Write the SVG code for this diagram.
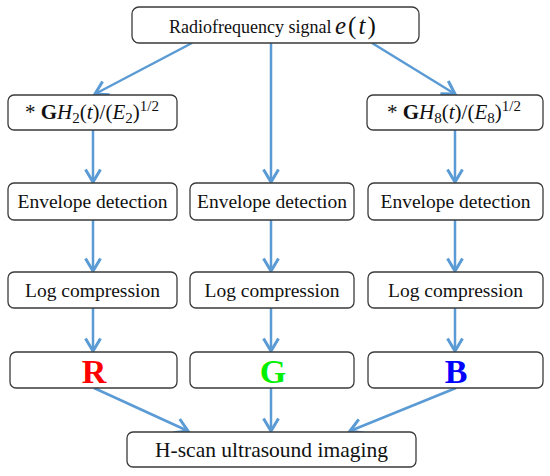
<svg xmlns="http://www.w3.org/2000/svg" width="550" height="476" viewBox="0 0 550 476">
<defs>
<marker id="ah" markerUnits="userSpaceOnUse" markerWidth="20" markerHeight="20" viewBox="-12 -8 14 16" refX="0" refY="0" orient="auto">
<path d="M-10,-6 L0,0 L-10,6" fill="none" stroke="#5b9bd5" stroke-width="2.4" stroke-linejoin="miter"/>
</marker>
<style>
.box{fill:#fff;stroke:#3a3a3a;stroke-width:1.3}
.c{stroke:#5b9bd5;stroke-width:2.5;fill:none;marker-end:url(#ah)}
text{font-family:'Liberation Serif','Times New Roman',serif;fill:#111}
.lbl{font-size:19.5px}
.rgb{font-weight:bold;font-size:34px}
</style>
</defs>
<g id="connectors">
<line class="c" x1="192" y1="43" x2="95" y2="94"/>
<line class="c" x1="271" y1="43" x2="271" y2="182"/>
<line class="c" x1="372" y1="43" x2="455" y2="94"/>
<line class="c" x1="93" y1="130" x2="93" y2="182"/>
<line class="c" x1="455" y1="130" x2="455" y2="182"/>
<line class="c" x1="93" y1="220" x2="93" y2="271"/>
<line class="c" x1="271" y1="220" x2="271" y2="271"/>
<line class="c" x1="455" y1="220" x2="455" y2="271"/>
<line class="c" x1="93" y1="308" x2="93" y2="351"/>
<line class="c" x1="271" y1="308" x2="271" y2="351"/>
<line class="c" x1="455" y1="308" x2="455" y2="351"/>
<line class="c" x1="94" y1="388" x2="188" y2="431"/>
<line class="c" x1="271" y1="388" x2="271" y2="431"/>
<line class="c" x1="456" y1="388" x2="350" y2="431"/>
</g>
<g id="rf">
<rect class="box" x="132" y="7" width="287" height="36" rx="7"/>
<text x="169" y="33" font-size="18">Radiofrequency signal</text>
<text x="335" y="34" font-size="25"><tspan font-style="italic">e</tspan><tspan dx="2">(</tspan><tspan dx="2" font-style="italic">t</tspan><tspan dx="2">)</tspan></text>
</g>
<g id="h2">
<rect class="box" x="8" y="95" width="169" height="35" rx="6"/>
<text x="25" y="119" font-size="21">* <tspan font-weight="bold">G</tspan><tspan font-style="italic">H</tspan><tspan dy="4" font-size="15">2</tspan><tspan dy="-4">(</tspan><tspan font-style="italic">t</tspan>)/(<tspan font-style="italic">E</tspan><tspan dy="4" font-size="15">2</tspan><tspan dy="-4">)</tspan><tspan dy="-8" font-size="15">1/2</tspan></text>
</g>
<g id="h8">
<rect class="box" x="367" y="95" width="176" height="35" rx="6"/>
<text x="387" y="119" font-size="21">* <tspan font-weight="bold">G</tspan><tspan font-style="italic">H</tspan><tspan dy="4" font-size="15">8</tspan><tspan dy="-4">(</tspan><tspan font-style="italic">t</tspan>)/(<tspan font-style="italic">E</tspan><tspan dy="4" font-size="15">8</tspan><tspan dy="-4">)</tspan><tspan dy="-8" font-size="15">1/2</tspan></text>
</g>
<g id="env1"><rect class="box" x="8" y="183" width="169" height="37" rx="6"/><text class="lbl" text-anchor="middle" x="92.5" y="208">Envelope detection</text></g>
<g id="env2"><rect class="box" x="190" y="183" width="164" height="37" rx="6"/><text class="lbl" text-anchor="middle" x="272" y="208">Envelope detection</text></g>
<g id="env3"><rect class="box" x="368" y="183" width="175" height="37" rx="6"/><text class="lbl" text-anchor="middle" x="455.5" y="208">Envelope detection</text></g>
<g id="log1"><rect class="box" x="8" y="272" width="169" height="36" rx="6"/><text class="lbl" text-anchor="middle" x="92.5" y="297">Log compression</text></g>
<g id="log2"><rect class="box" x="190" y="272" width="164" height="36" rx="6"/><text class="lbl" text-anchor="middle" x="272" y="297">Log compression</text></g>
<g id="log3"><rect class="box" x="368" y="272" width="175" height="36" rx="6"/><text class="lbl" text-anchor="middle" x="455.5" y="297">Log compression</text></g>
<g id="r"><rect class="box" x="10" y="352" width="167" height="36" rx="6"/><text class="rgb" text-anchor="middle" x="94" y="383" style="fill:#ff0000">R</text></g>
<g id="g"><rect class="box" x="190" y="352" width="164" height="36" rx="6"/><text class="rgb" text-anchor="middle" x="273" y="383" style="fill:#00f000">G</text></g>
<g id="b"><rect class="box" x="368" y="352" width="175" height="36" rx="6"/><text class="rgb" text-anchor="middle" x="456" y="383" style="fill:#0000ff">B</text></g>
<g id="hscan"><rect class="box" x="127" y="432" width="289" height="35" rx="6"/><text text-anchor="middle" x="271.5" y="457" font-size="21.5">H-scan ultrasound imaging</text></g>
</svg>
